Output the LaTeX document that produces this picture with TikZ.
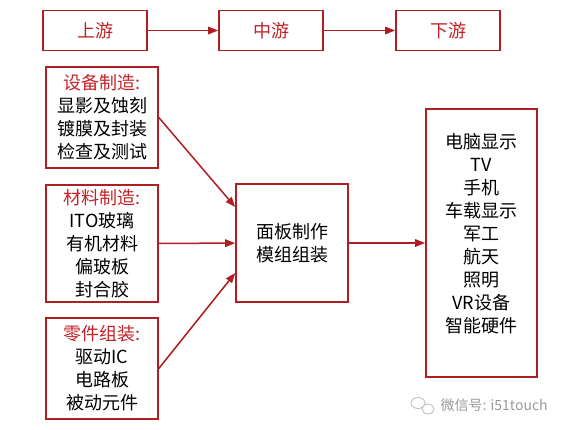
\documentclass[tikz,border=0pt]{standalone}
\usepackage{fontspec}
\newfontfamily\cjk{Noto Sans CJK SC}
\usetikzlibrary{arrows.meta}
\definecolor{boxred}{RGB}{175,30,35}
\definecolor{headred}{RGB}{195,35,40}
\tikzset{
  stage/.style={draw=boxred, line width=1.6pt, align=center, inner sep=0pt,
    font=\cjk\fontsize{18}{23}\selectfont},
  flow/.style={draw=boxred, line width=1.5pt, -{Triangle[length=10pt,width=7.5pt]}},
}
\newcommand{\hd}[1]{\textcolor{headred}{#1}}

\begin{document}
\begin{tikzpicture}[x=1pt,y=-1pt]
      \useasboundingbox (0,0) rectangle (562,429);
      % chain on top
      \node[stage, minimum width=104pt, minimum height=40pt, text=headred] (up) at (95,30.5) {上游};
      \node[stage, minimum width=104pt, minimum height=40pt, text=headred] (mid) at (271,30.5) {中游};
      \node[stage, minimum width=104pt, minimum height=40pt, text=headred] (down) at (448,30.5) {下游};
      % upstream
      \node[stage, minimum width=112pt, minimum height=101pt] (equip) at (102,117.5)
        {\hd{设备制造:}\\显影及蚀刻\\镀膜及封装\\检查及测试};
      \node[stage, minimum width=112pt, minimum height=117pt] (mat) at (102,243.5)
        {\hd{材料制造:}\\ITO玻璃\\有机材料\\偏玻板\\封合胶};
      \node[stage, minimum width=112pt, minimum height=101pt] (part) at (102,368.5)
        {\hd{零件组装:}\\驱动IC\\电路板\\被动元件};
      % midstream and downstream
      \node[stage, minimum width=112pt, minimum height=118pt] (panel) at (292,243)
        {面板制作\\模组组装};
      \node[stage, minimum width=111pt, minimum height=268pt] (apps) at (481.5,243)
        {电脑显示\\TV\\手机\\车载显示\\军工\\航天\\照明\\VR设备\\智能硬件\\[-2pt]};
      \begin{scope}[flow]
        \draw (up) to (mid);
        \draw (mid) to (down);
        \draw (equip.east) to ([yshift=36pt]panel.west);
        \draw (mat) to (panel);
        \draw (part.east) to ([yshift=-30pt]panel.west);
        \draw (panel) to (apps);
      \end{scope}
      % watermark
      \draw[gray!55, line width=0.8pt] (418,403) ellipse (7pt and 5.5pt) (428,409) ellipse (6pt and 5pt);
      \node[anchor=west, text=gray!80, font=\cjk\fontsize{14}{14}\selectfont] (mark) at (437,405) {微信号: i51touch};
\end{tikzpicture}
\end{document}
